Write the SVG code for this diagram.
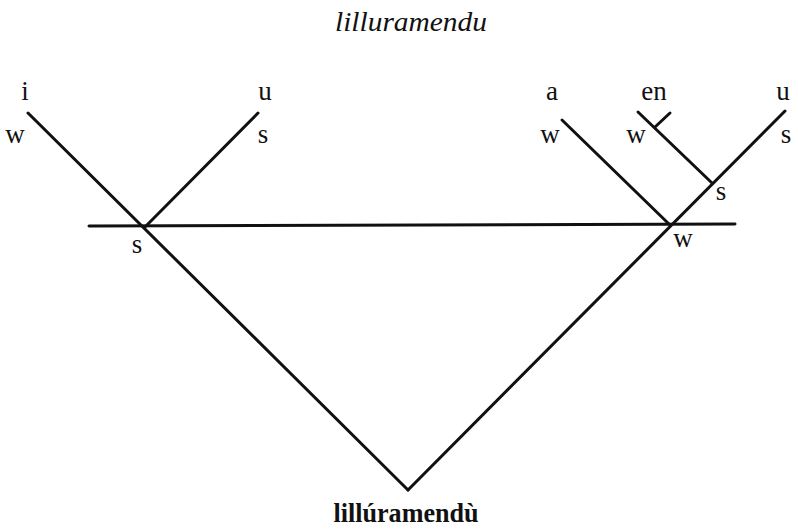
<svg xmlns="http://www.w3.org/2000/svg" width="798" height="529" viewBox="0 0 798 529">
<style>
.l{stroke:#111;stroke-width:3;fill:none;stroke-linecap:round}
.t{font-family:"Liberation Serif",serif;font-size:27px;fill:#111;text-anchor:middle}
</style>
<rect width="798" height="529" fill="#fff"/>
<text class="t" x="411" y="31" font-style="italic" font-size="28" textLength="152" lengthAdjust="spacingAndGlyphs">lilluramendu</text>
<g id="connectors">
<line class="l" x1="89" y1="226" x2="735" y2="224"/>
<line class="l" x1="28" y1="113" x2="408" y2="490"/>
<line class="l" x1="258" y1="113" x2="145" y2="227"/>
<line class="l" x1="408" y1="490" x2="785" y2="111"/>
<line class="l" x1="562" y1="120" x2="670" y2="225"/>
<line class="l" x1="638" y1="112" x2="712" y2="183"/>
<line class="l" x1="655" y1="127" x2="670" y2="113"/>
</g>
<g id="n-i"><text class="t" x="25" y="100">i</text><text class="t" x="15" y="143">w</text></g>
<g id="n-u1"><text class="t" x="265" y="100">u</text><text class="t" x="263" y="143">s</text></g>
<g id="n-s1"><text class="t" x="137" y="253">s</text></g>
<g id="n-a"><text class="t" x="552" y="100">a</text><text class="t" x="550" y="143">w</text></g>
<g id="n-en"><text class="t" x="654" y="100">en</text><text class="t" x="636" y="143">w</text></g>
<g id="n-u2"><text class="t" x="783" y="100">u</text><text class="t" x="786" y="143">s</text></g>
<g id="n-s2"><text class="t" x="721" y="200">s</text></g>
<g id="n-w"><text class="t" x="683" y="247">w</text></g>
<g id="n-root"><text class="t" x="406" y="522" font-weight="bold" textLength="145" lengthAdjust="spacingAndGlyphs">lillúramendù</text></g>
</svg>
